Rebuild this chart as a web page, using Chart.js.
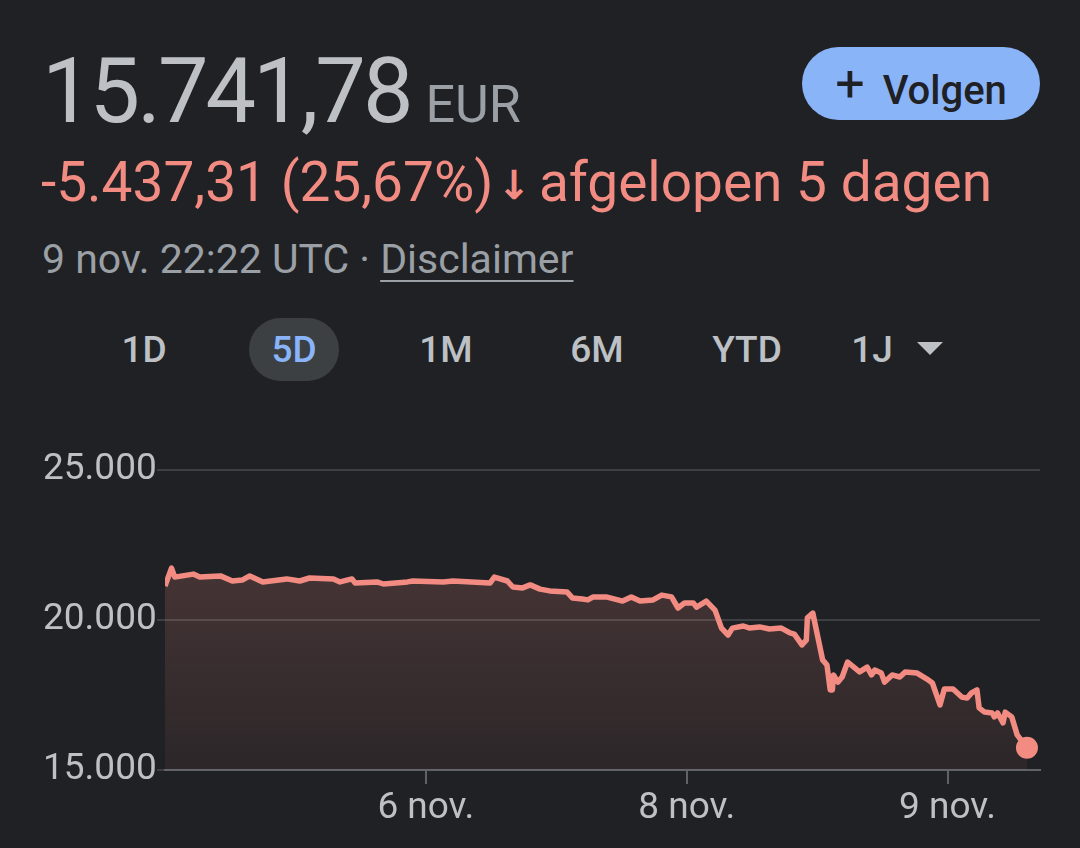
<!DOCTYPE html>
<html>
<head>
<meta charset="utf-8">
<script src="https://cdn.jsdelivr.net/npm/chart.js@4"></script>
<style>
  html, body { margin: 0; padding: 0; background: #202124; }
  body { width: 1080px; height: 848px; position: relative; overflow: hidden; font-family: Roboto, "Noto Sans", sans-serif; }
  .abs { position: absolute; line-height: 1; white-space: nowrap; }
  #price { left: 42px; top: 47px; font-size: 90px; color: #bdc1c6; letter-spacing: -3px; }
  #price .cur { font-size: 52px; color: #9aa0a6; letter-spacing: 0; margin-left: 15px; }
  #change { left: 41px; top: 155px; font-size: 55px; color: #f28b82; }
  #change .arr { font-family: "DejaVu Sans", sans-serif; font-weight: 700; font-size: 40px; margin: 0 8px 0 4px; position: relative; top: -2px; }
  #meta { left: 42px; top: 239px; font-size: 41px; color: #9aa0a6; }
  #meta u { text-decoration-thickness: 2px; text-underline-offset: 7px; }
  #follow { left: 802px; top: 47px; width: 238px; height: 73px; border-radius: 37px; background: #8ab4f8;
            color: #202124; font-size: 40px; font-weight: 500; display: flex; align-items: center; justify-content: center; }
  #follow .in { padding-top: 6px; }
  #follow .plus { font-size: 52px; font-weight: 400; margin-right: 18px; position: relative; top: -3px; }
  .tab { top: 318px; height: 63px; font-size: 37px; font-weight: 500; color: #bdc1c6; display: flex; align-items: center; justify-content: center; transform: translateX(-50%); }
  .tab.on { background: #3c4043; color: #8ab4f8; border-radius: 32px; width: 90px; }
  .tri { left: 917px; top: 342px; width: 0; height: 0; border-left: 13px solid transparent; border-right: 13px solid transparent; border-top: 13px solid #bdc1c6; }
  #wrap { position: absolute; left: 0; top: 440px; width: 1080px; height: 400px; }
</style>
</head>
<body>
<div id="price" class="abs">15.741,78<span class="cur">EUR</span></div>
<div id="follow" class="abs"><span class="in"><span class="plus">+</span>Volgen</span></div>
<div id="change" class="abs">-5.437,31 (25,67%)<span class="arr">↓</span>afgelopen 5 dagen</div>
<div id="meta" class="abs">9 nov. 22:22 UTC · <u>Disclaimer</u></div>
<div class="abs tab" style="left:144px">1D</div>
<div class="abs tab on" style="left:294px">5D</div>
<div class="abs tab" style="left:446px">1M</div>
<div class="abs tab" style="left:597px">6M</div>
<div class="abs tab" style="left:747px">YTD</div>
<div class="abs tab" style="left:872px">1J</div>
<div class="abs tri"></div>
<div id="wrap"><canvas id="myChart"></canvas></div>
<script>
// uren sinds 5 nov. 00:00
var hours = [0.0, 0.6, 0.9, 2.6, 3.2, 5.1, 6.2, 7.1, 7.8, 9.0,
  11.2, 12.4, 13.3, 15.5, 16.1, 17.2, 17.5, 19.5, 20.1, 22.3,
  22.8, 25.6, 26.5, 29.9, 30.3, 31.5, 32.0, 32.9, 33.6, 34.5,
  35.4, 37.0, 37.5, 38.4, 38.9, 39.4, 40.6, 42.1, 42.9, 43.7,
  44.9, 45.7, 46.6, 47.2, 47.8, 48.6, 48.9, 49.8, 50.6, 51.2,
  51.8, 52.2, 53.2, 53.8, 54.7, 55.6, 56.7, 57.5, 57.9, 58.6,
  59.0, 59.1, 59.6, 60.5, 60.9, 61.2, 61.4, 61.5, 61.9, 62.3,
  62.8, 63.9, 64.6, 65.0, 65.3, 65.9, 66.2, 66.9, 67.6, 68.1,
  69.2, 70.1, 70.6, 71.3, 71.7, 72.5, 73.3, 73.8, 74.2, 74.7,
  74.9, 75.4, 76.1, 76.3, 76.6, 77.1, 77.3, 77.9, 78.4, 79.3];

var prices = [21130, 21730, 21430, 21530, 21430, 21470, 21300, 21330, 21470, 21270,
  21370, 21300, 21400, 21370, 21270, 21370, 21230, 21270, 21200, 21270,
  21300, 21270, 21300, 21230, 21430, 21300, 21100, 21070, 21170, 21030,
  20970, 20930, 20730, 20700, 20670, 20770, 20770, 20630, 20770, 20630,
  20670, 20830, 20770, 20400, 20570, 20570, 20430, 20630, 20330, 19730,
  19500, 19730, 19800, 19730, 19770, 19700, 19730, 19570, 19530, 19170,
  19330, 20070, 20230, 18670, 18500, 17670, 17670, 18170, 17930, 18100,
  18600, 18270, 18430, 18170, 18330, 18230, 17930, 18170, 18100, 18270,
  18230, 18030, 17900, 17170, 17700, 17700, 17430, 17400, 17570, 17670,
  17070, 16930, 16900, 16770, 16900, 16570, 16930, 16770, 16170, 15742];

var tickHours = [24, 48, 72];
var tickLabels = ['6 nov.', '8 nov.', '9 nov.'];
var yTicks = [15000, 20000, 25000];
var xMax = 80.5;

var points = hours.map(function (h, i) { return { x: h, y: prices[i] }; });

var ctx = document.getElementById('myChart').getContext('2d');
window.myChart = new Chart(ctx, {
  type: 'line',
  data: {
    datasets: [{
      data: points,
      borderColor: '#f28b82',
      borderWidth: 5.5,
      borderJoinStyle: 'round',
      tension: 0,
      fill: 'start',
      backgroundColor: function (c) {
        var area = c.chart.chartArea;
        if (!area) return 'rgba(242,139,130,0.15)';
        var g = c.chart.ctx.createLinearGradient(0, area.top, 0, area.bottom);
        g.addColorStop(0, 'rgba(242,139,130,0.24)');
        g.addColorStop(1, 'rgba(242,139,130,0.06)');
        return g;
      },
      pointRadius: points.map(function (p, i) { return i === points.length - 1 ? 11 : 0; }),
      pointBackgroundColor: '#f28b82',
      pointBorderWidth: 0
    }]
  },
  options: {
    responsive: true,
    maintainAspectRatio: false,
    animation: false,
    layout: { padding: { left: 43, right: 40, top: 30, bottom: 0 } },
    plugins: { legend: { display: false }, tooltip: { enabled: false } },
    scales: {
      x: {
        type: 'linear',
        min: 0,
        max: xMax,
        afterFit: function (s) { s.height = 70; },
        afterBuildTicks: function (s) { s.ticks = tickHours.map(function (v) { return { value: v }; }); },
        ticks: {
          autoSkip: false,
          maxRotation: 0,
          padding: 3,
          color: '#bdc1c6',
          font: { family: 'Roboto', size: 37 },
          callback: function (v) { return tickLabels[tickHours.indexOf(v)]; }
        },
        grid: { drawOnChartArea: false, drawTicks: true, tickLength: 14, color: '#5f6368', lineWidth: 2 },
        border: { display: true, color: '#5f6368', width: 2 }
      },
      y: {
        min: 15000,
        max: 25000,
        afterFit: function (s) { s.width = 122; },
        afterBuildTicks: function (s) { s.ticks = yTicks.map(function (v) { return { value: v }; }); },
        ticks: {
          crossAlign: 'far',
          color: '#bdc1c6',
          font: { family: 'Roboto', size: 37 },
          callback: function (v) { return v.toLocaleString('de-DE'); }
        },
        grid: { color: '#3c4043', lineWidth: 2, drawTicks: true, tickLength: 8 },
        border: { display: false }
      }
    }
  }
});
</script>
</body>
</html>
